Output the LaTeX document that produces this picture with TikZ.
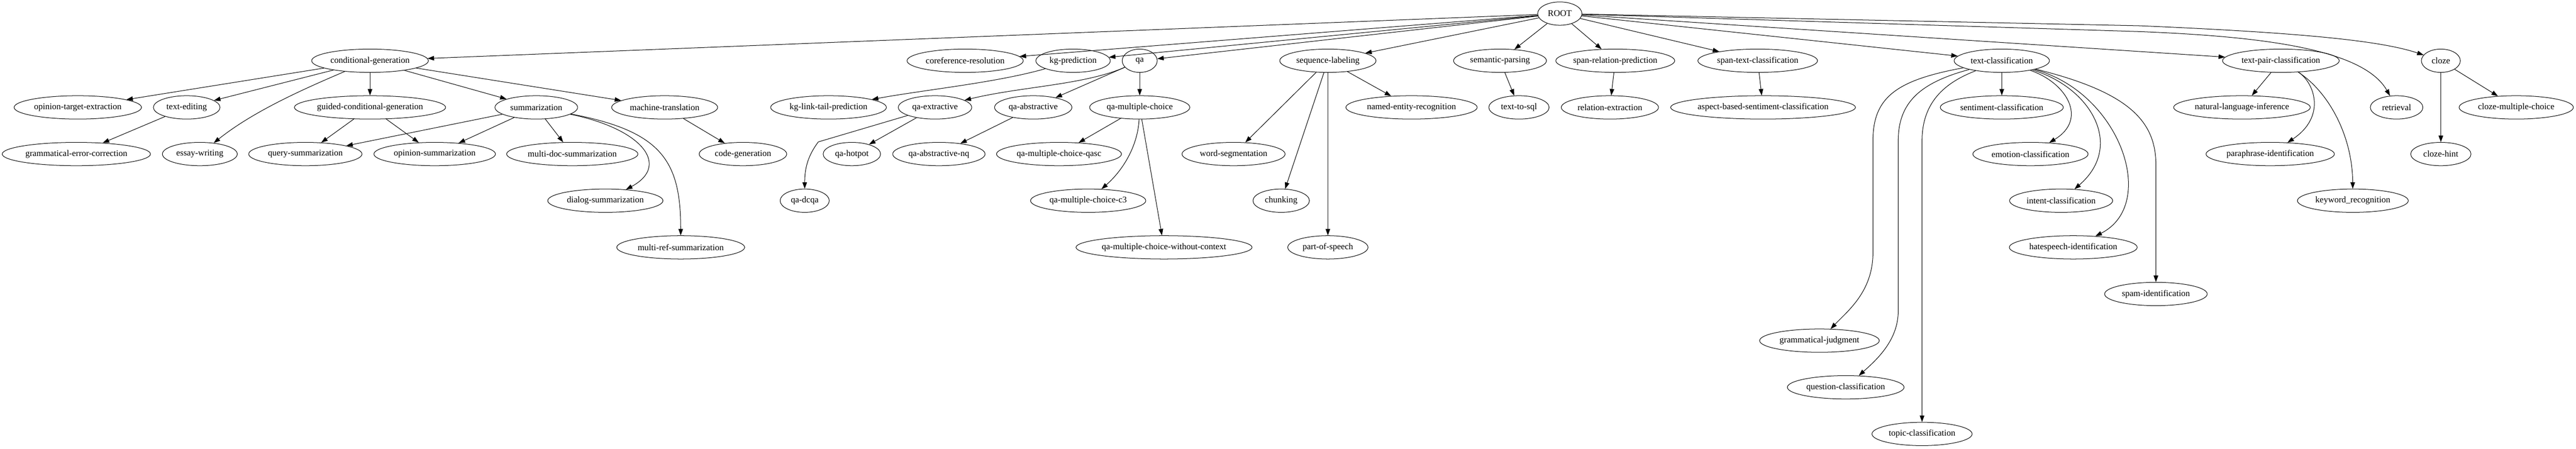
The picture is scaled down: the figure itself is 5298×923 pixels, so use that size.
\documentclass[tikz,border=0pt]{standalone}
\usepackage{fontspec}
\setmainfont{Liberation Serif}
\usetikzlibrary{arrows.meta,shapes.geometric}
\tikzset{
  nd/.style={draw, ellipse, line width=0.8pt, minimum height=36pt, inner sep=0pt,
    font=\fontsize{13.5}{16}\selectfont},
  edge/.style={draw, line width=0.8pt, -{Triangle[length=10pt,width=7pt]}}
}
\newcommand\gn[5]{\node[nd, minimum width=#4*0.75pt] (#1) at (#2,#3) {#5};}
\begin{document}
\begin{tikzpicture}[x=0.75pt,y=-0.75pt]
\fill[white] (0,0) rectangle (5298,923);
\useasboundingbox (0,0) rectangle (5298,923);
% row 0
\gn{ROOT}{3208}{28}{91}{ROOT}
% row 1
\gn{cg}{761}{125}{240}{conditional-generation}
\gn{coref}{1985}{125}{239}{coreference-resolution}
\gn{kgp}{2207}{125}{153}{kg-prediction}
\gn{qa}{2344}{125}{72}{qa}
\gn{seq}{2731}{125}{198}{sequence-labeling}
\gn{sem}{3085}{125}{191}{semantic-parsing}
\gn{srp}{3322}{125}{236}{span-relation-prediction}
\gn{stc}{3615}{125}{246}{span-text-classification}
\gn{tc}{4117}{125}{196}{text-classification}
\gn{tpc}{4691}{125}{240}{text-pair-classification}
\gn{cloze}{5020}{125}{80}{cloze}
% row 2
\gn{ote}{160}{221}{262}{opinion-target-extraction}
\gn{te}{384}{221}{137}{text-editing}
\gn{gcg}{761}{221}{311}{guided-conditional-generation}
\gn{summ}{1103}{221}{170}{summarization}
\gn{mt}{1367}{221}{218}{machine-translation}
\gn{kglt}{1704}{221}{238}{kg-link-tail-prediction}
\gn{qae}{1923}{221}{151}{qa-extractive}
\gn{qaa}{2125}{221}{159}{qa-abstractive}
\gn{qamc}{2344}{221}{206}{qa-multiple-choice}
\gn{ner}{2903}{221}{270}{named-entity-recognition}
\gn{tts}{3124}{221}{124}{text-to-sql}
\gn{rex}{3311}{221}{200}{relation-extraction}
\gn{absc}{3626}{221}{379}{aspect-based-sentiment-classification}
\gn{sent}{4117}{221}{253}{sentiment-classification}
\gn{nli}{4611}{221}{281}{natural-language-inference}
\gn{ret}{4929}{221}{108}{retrieval}
\gn{cmc}{5175}{221}{235}{cloze-multiple-choice}
% row 3
\gn{gec}{157}{317}{305}{grammatical-error-correction}
\gn{ew}{411}{317}{154}{essay-writing}
\gn{qs}{628}{317}{233}{query-summarization}
\gn{os}{894}{317}{250}{opinion-summarization}
\gn{mds}{1177}{317}{270}{multi-doc-summarization}
\gn{cgen}{1528}{317}{180}{code-generation}
\gn{hot}{1752}{317}{118}{qa-hotpot}
\gn{nq}{1931}{317}{190}{qa-abstractive-nq}
\gn{qasc}{2178}{317}{257}{qa-multiple-choice-qasc}
\gn{ws}{2537}{317}{212}{word-segmentation}
\gn{emo}{4176}{317}{237}{emotion-classification}
\gn{para}{4669}{317}{264}{paraphrase-identification}
\gn{hint}{5020}{317}{124}{cloze-hint}
% row 4
\gn{dial}{1245}{413}{237}{dialog-summarization}
\gn{dcqa}{1655}{413}{101}{qa-dcqa}
\gn{cthree}{2238}{413}{237}{qa-multiple-choice-c3}
\gn{chunk}{2635}{413}{116}{chunking}
\gn{intent}{4239}{413}{212}{intent-classification}
\gn{kw}{4839}{413}{228}{keyword\_recognition}
% row 5
\gn{mrs}{1400}{509}{263}{multi-ref-summarization}
\gn{woc}{2394}{509}{362}{qa-multiple-choice-without-context}
\gn{pos}{2731}{509}{165}{part-of-speech}
\gn{hate}{4264}{509}{263}{hatespeech-identification}
% rows 6-9
\gn{spam}{4434}{605}{211}{spam-identification}
\gn{gj}{3742}{701}{246}{grammatical-judgment}
\gn{qc}{3796}{797}{240}{question-classification}
\gn{topic}{3953}{893}{206}{topic-classification}
% edges from ROOT
\draw[edge] (ROOT) -- (cg);
\draw[edge] (ROOT) -- (coref);
\draw[edge] (ROOT) -- (kgp);
\draw[edge] (ROOT) -- (qa);
\draw[edge] (ROOT) -- (seq);
\draw[edge] (ROOT) -- (sem);
\draw[edge] (ROOT) -- (srp);
\draw[edge] (ROOT) -- (stc);
\draw[edge] (ROOT) -- (tc);
\draw[edge] (ROOT) -- (tpc);
\draw[edge] (ROOT) -- (4400,65) .. controls (4650,75) and (4860,100) .. (ret);
\draw[edge] (ROOT) -- (4400,53) .. controls (4750,68) and (4900,85) .. (cloze);
% conditional-generation
\draw[edge] (cg) -- (ote);
\draw[edge] (cg) -- (te);
\draw[edge] (cg) .. controls (620,185) and (520,230) .. (ew);
\draw[edge] (cg) -- (gcg);
\draw[edge] (cg) -- (summ);
\draw[edge] (cg) -- (mt);
\draw[edge] (te) -- (gec);
\draw[edge] (gcg) -- (qs);
\draw[edge] (gcg) -- (os);
\draw[edge] (summ) -- (qs);
\draw[edge] (summ) -- (os);
\draw[edge] (summ) -- (mds);
\draw[edge] (summ) .. controls (1320,265) and (1380,340) .. (dial);
\draw[edge] (summ) .. controls (1360,270) and (1400,330) .. (mrs);
\draw[edge] (mt) -- (cgen);
% kg / qa
\draw[edge] (kgp) .. controls (2050,170) and (1900,185) .. (kglt);
\draw[edge] (qa) .. controls (2230,175) and (2100,178) .. (qae);
\draw[edge] (qa) -- (qaa);
\draw[edge] (qa) -- (qamc);
\draw[edge] (qae) -- (hot);
\draw[edge] (qae) -- (1683,292) .. controls (1662,320) and (1655,345) .. (dcqa);
\draw[edge] (qaa) -- (nq);
\draw[edge] (qamc) -- (qasc);
\draw[edge] (qamc) .. controls (2340,300) and (2310,350) .. (cthree);
\draw[edge] (qamc) -- (woc);
% sequence labeling etc.
\draw[edge] (seq) -- (ws);
\draw[edge] (seq) -- (chunk);
\draw[edge] (seq) -- (pos);
\draw[edge] (seq) -- (ner);
\draw[edge] (sem) -- (tts);
\draw[edge] (srp) -- (rex);
\draw[edge] (stc) -- (absc);
% text-classification
\draw[edge] (tc) -- (sent);
\draw[edge] (tc) .. controls (4250,170) and (4295,245) .. (emo);
\draw[edge] (tc) .. controls (4300,180) and (4370,300) .. (intent);
\draw[edge] (tc) .. controls (4360,190) and (4440,420) .. (hate);
\draw[edge] (tc) .. controls (4380,190) and (4434,250) .. (4434,340) -- (spam);
\draw[edge] (tc) .. controls (3900,165) and (3852,200) .. (3852,290) -- (3852,520) .. controls (3852,600) and (3800,640) .. (gj);
\draw[edge] (tc) .. controls (3950,170) and (3904,210) .. (3904,290) -- (3904,640) .. controls (3904,700) and (3860,740) .. (qc);
\draw[edge] (tc) .. controls (4000,170) and (3953,210) .. (3953,290) -- (topic);
% text-pair-classification
\draw[edge] (tpc) -- (nli);
\draw[edge] (tpc) .. controls (4760,170) and (4785,240) .. (para);
\draw[edge] (tpc) .. controls (4790,190) and (4838,280) .. (kw);
% cloze
\draw[edge] (cloze) -- (hint);
\draw[edge] (cloze) -- (cmc);
\end{tikzpicture}
\end{document}
